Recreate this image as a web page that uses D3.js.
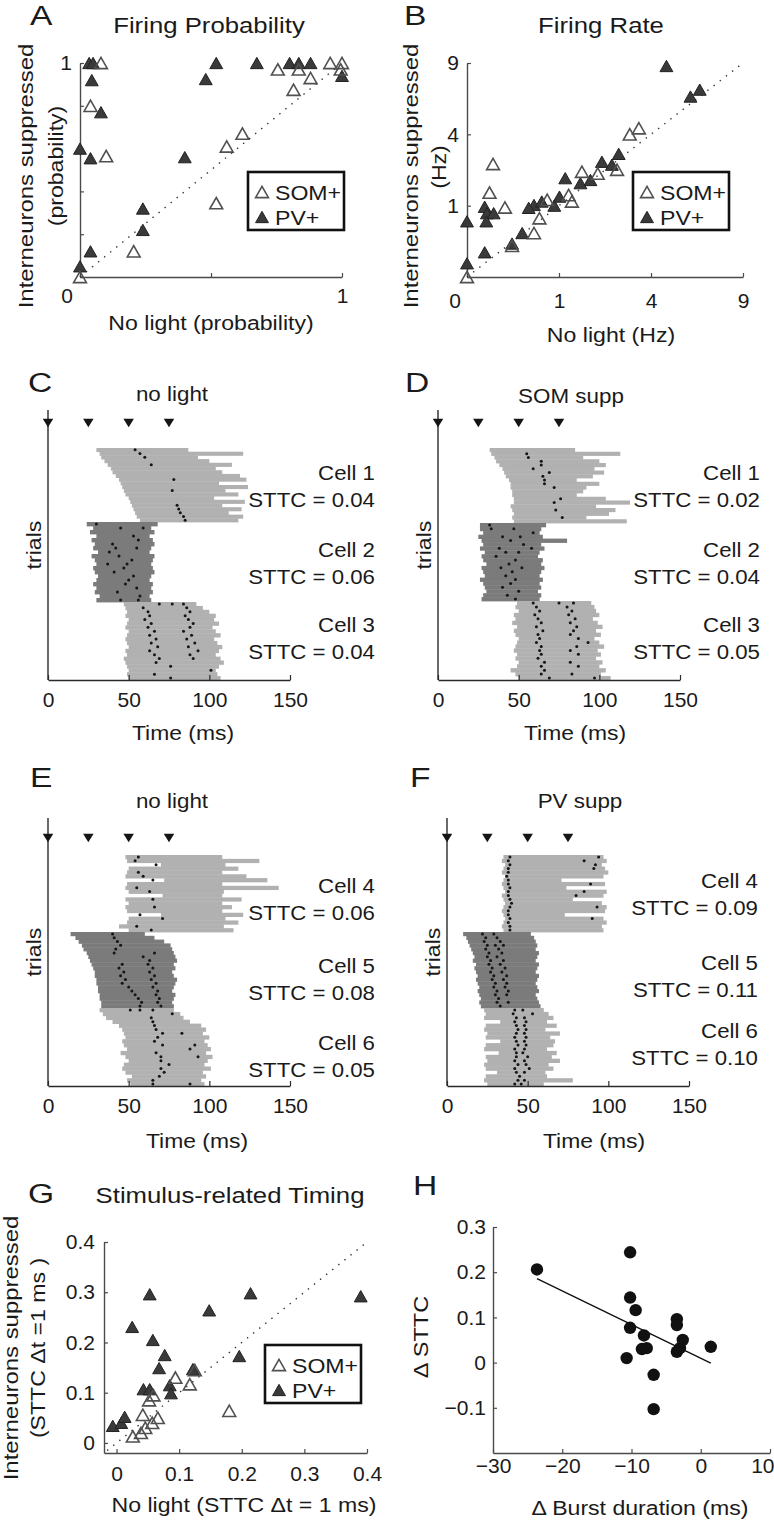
<!DOCTYPE html>
<html>
<head>
<meta charset="utf-8">
<script src="https://d3js.org/d3.v7.min.js"></script>
<style>
  body { margin: 0; background: #fff; }
  text { font-family: "Liberation Sans", Arial, Helvetica, sans-serif; fill: #1a1a1a; }
</style>
</head>
<body>
<script>
// ---------- data ----------
// A: firing probability (no light vs interneurons suppressed)
var probPV_x  = [0.035,0.05,0.045,0.08,0,0.04,0.40,0.24,0.24,0.04,0,0.52,0.48,0.675,0.80,0.835,0.88,1.0];
var probPV_y  = [1.0,1.0,0.92,0.77,0.60,0.555,0.56,0.32,0.22,0.12,0.05,1.0,0.925,1.0,1.0,1.0,1.0,0.94];
var probSOM_x = [0.08,0.04,0.10,0.205,0,0.52,0.56,0.62,0.755,0.835,0.815,0.88,0.955,1.0,0.995];
var probSOM_y = [1.0,0.80,0.565,0.12,0,0.345,0.61,0.67,0.97,0.97,0.875,0.93,1.0,1.0,0.97];

// B: firing rate (Hz), sqrt axes
var ratePV_x  = [4.7,6.4,5.9,2.72,2.15,2.48,1.14,1.52,1.8,1.01,0.53,0.45,0.66,0.36,0.24,0.037,0.047,0.084,0.044,0,0.037,0,0.9];
var ratePV_y  = [8.75,6.9,6.4,2.98,2.61,2.48,1.92,1.73,1.85,1.27,1.02,0.94,1.12,0.38,0.22,0.97,0.8,0.8,0.61,0.61,0.12,0.037,1.0];
var rateSOM_x = [0.08,0.06,0.17,0.62,0.53,0.24,0.76,1.22,1.3,1.56,2.02,2.66,3.13,3.49,0];
var rateSOM_y = [2.51,1.4,0.95,0.68,0.38,0.19,1.17,1.32,1.12,2.18,2.1,2.26,4.0,4.35,0];
var rateTicks = [0,1,4,9];

// G: stimulus-related timing (STTC)
var stPV_x  = [0.053,0.214,0.39,0.148,0.025,0.058,0.077,0.196,0.068,0.122,0.043,0.053,0.085,0.087,-0.006,0.0075,0.013];
var stPV_y  = [0.296,0.298,0.292,0.264,0.231,0.205,0.175,0.173,0.149,0.147,0.107,0.107,0.115,0.099,0.034,0.04,0.052];
var stSOM_x = [0.094,0.117,0.125,0.18,0.059,0.052,0.042,0.066,0.057,0.039,0.026,0.046];
var stSOM_y = [0.13,0.117,0.145,0.064,0.095,0.085,0.056,0.05,0.04,0.02,0.013,0.03];

// H: change in burst duration vs change in STTC
var burstDelta = [-23.65,-10.2,-10.2,-9.4,-10.2,-10.7,-8.2,-8.5,-7.8,-6.8,-6.8,-3.45,-3.45,-2.6,-3.45,-3.0,1.45];
var sttcDelta  = [0.206,0.244,0.144,0.116,0.077,0.01,0.06,0.03,0.032,-0.027,-0.103,0.096,0.083,0.05,0.024,0.032,0.035];

// rasters: stimulus times and per-trial burst start/end (ms), spikes [trial, ms]
var stimTimes = [0,25,50,75];
var timeTicks = [0,50,100,150];

var C1_start = [30,32,33,35,37,39,40,42,44,45,46,47,48,50,51,52,53,54,55,57];
var C1_end   = [87,121,93,100,114,104,108,119,123,106,124,110,118,103,122,108,120,112,121,118];
var C1_spikes = [[0,54],[1,57],[2,60],[4,64],[8,78],[11,77],[15,80],[16,81],[17,82],[18,84],[19,85]];
var C2_start = [24,28,26,30,27,29,28,31,27,29,30,28,29,31,30,28,30,29,32,30];
var C2_end   = [68,64,66,63,65,66,64,63,66,65,64,65,66,64,63,65,64,65,63,64];
var C2_spikes = [[0,30],[1,45],[1,59],[3,53],[4,56],[5,40],[6,42],[6,55],[7,38],[8,44],[9,52],[10,37],[10,49],[11,47],[12,41],[13,53],[14,50],[15,48],[16,55],[17,43],[18,57],[19,56],[19,45]];
var C3_start = [47,48,49,48,50,49,48,50,49,48,49,50,48,49,47,48,49,50,49,50];
var C3_end   = [92,96,100,104,103,106,102,104,107,103,105,108,106,104,107,109,106,104,105,107];
var C3_spikes = [[0,69],[0,77],[0,84],[1,59],[1,86],[2,62],[2,88],[3,63],[3,85],[4,60],[4,87],[5,64],[5,90],[6,62],[6,88],[7,66],[7,84],[8,63],[8,89],[9,67],[9,86],[10,64],[10,91],[11,68],[11,87],[12,63],[12,93],[13,66],[13,88],[14,69],[14,90],[15,67],[16,76],[17,101],[18,66],[19,76]];

var D1_start = [32,33,35,36,38,40,41,42,44,45,45,46,46,47,47,45,46,47,46,47];
var D1_end   = [85,113,90,100,104,97,103,96,86,100,92,90,86,104,119,98,110,106,92,117];
var D1_spikes = [[1,55],[2,56],[3,64],[4,64],[5,59],[6,69],[7,65],[8,66],[9,66],[10,72],[13,76],[14,72],[16,73],[18,77]];
var D2_start = [26,26,28,25,27,28,26,29,27,28,30,27,28,29,26,28,29,30,28,27];
var D2_end   = [67,64,63,65,80,64,66,63,62,65,64,66,64,63,65,63,64,62,64,63];
var D2_spikes = [[0,32],[1,33],[1,47],[2,59],[3,40],[3,51],[4,45],[5,53],[6,38],[6,58],[7,42],[7,50],[8,36],[9,48],[10,44],[11,39],[11,52],[12,46],[13,42],[14,48],[15,45],[16,40],[17,50],[18,43],[19,48]];
var D3_start = [49,48,50,47,48,46,49,47,48,50,49,48,47,49,48,50,49,45,48,50];
var D3_end   = [95,97,98,100,96,99,102,98,101,97,100,103,99,101,98,102,100,104,101,107];
var D3_spikes = [[0,59],[0,75],[0,84],[1,61],[1,80],[2,63],[2,83],[3,60],[3,81],[4,62],[4,85],[5,64],[5,82],[6,61],[6,86],[7,65],[7,84],[8,62],[8,82],[9,63],[9,87],[10,61],[10,93],[11,64],[11,86],[12,63],[12,82],[13,64],[13,87],[14,62],[15,66],[15,82],[16,64],[16,87],[17,66],[18,64],[18,83],[19,69],[19,97]];

var E4_start = [48,49,70,50,49,48,72,49,48,50,71,48,50,48,49,70,50,49,44,50];
var E4_end   = [108,131,110,118,108,123,136,108,143,109,108,120,108,114,108,121,110,118,109,115];
var E4_spikes = [[0,56],[1,54],[2,67],[4,56],[5,59],[6,65],[8,55],[9,63],[11,65],[13,66],[15,57],[16,71],[18,55],[19,64]];
var E5_start = [14,17,19,21,22,24,25,26,27,28,29,29,30,30,31,31,32,32,33,33];
var E5_end   = [60,66,72,76,77,78,79,80,78,79,77,78,80,79,78,77,79,78,77,78];
var E5_spikes = [[0,40],[1,41],[2,43],[3,45],[4,42],[5,41],[5,66],[6,59],[7,63],[8,46],[8,62],[9,44],[9,65],[10,47],[10,63],[11,45],[11,66],[12,48],[12,64],[13,46],[13,67],[14,50],[14,65],[15,52],[15,68],[16,54],[16,67],[17,56],[17,69],[18,58],[18,68],[19,57],[19,70]];
var E6_start = [32,34,36,40,44,46,47,48,46,47,49,45,48,50,47,46,48,52,49,51];
var E6_end   = [78,82,84,88,95,98,96,100,97,99,101,98,102,99,97,101,96,98,95,97];
var E6_spikes = [[0,51],[0,57],[0,65],[1,77],[2,64],[3,65],[4,66],[5,67],[6,71],[6,83],[7,68],[8,66],[9,71],[9,91],[10,88],[11,67],[12,70],[12,93],[13,70],[14,75],[15,70],[16,72],[17,69],[18,65],[19,65],[19,88]];

var F4_start = [35,34,36,35,34,36,35,34,35,36,34,35,36,35,34,35,36,35,34,35];
var F4_end   = [97,99,96,98,100,97,71,98,74,99,97,78,96,99,98,73,97,99,96,97];
var F4_spikes = [[0,39],[0,94],[1,38],[1,85],[2,39],[2,92],[3,38],[3,91],[4,38],[5,37],[6,38],[7,38],[7,89],[8,39],[9,38],[9,85],[10,38],[10,80],[11,39],[12,40],[13,39],[13,93],[14,38],[15,38],[16,39],[16,90],[17,38],[18,39],[19,39]];
var F5_start = [10,12,13,14,15,16,17,16,18,17,18,19,18,19,20,19,20,21,20,21];
var F5_end   = [52,54,55,56,55,57,56,55,57,56,55,57,56,55,56,57,55,56,57,58];
var F5_spikes = [[0,22],[0,29],[1,24],[1,31],[2,23],[2,33],[3,25],[3,30],[3,35],[4,24],[4,32],[5,26],[5,34],[6,25],[6,31],[7,27],[7,35],[8,26],[8,33],[9,28],[9,36],[10,27],[10,34],[11,29],[11,37],[12,28],[12,35],[13,30],[13,37],[14,29],[14,36],[15,31],[15,38],[16,30],[16,37],[17,32],[18,31],[18,38],[19,33]];
var F6_start = [23,24,23,33,24,23,25,24,33,24,23,32,24,25,23,24,31,24,23,25];
var F6_end   = [60,63,66,62,68,61,70,64,67,66,62,68,65,70,63,66,61,62,78,60];
var F6_spikes = [[0,42],[0,47],[1,41],[1,53],[2,43],[2,48],[3,42],[3,49],[4,43],[4,48],[5,44],[5,49],[6,43],[6,48],[7,42],[7,49],[8,43],[8,48],[9,44],[9,49],[10,42],[10,48],[11,43],[11,47],[12,43],[12,50],[13,42],[13,48],[14,44],[14,49],[15,42],[15,51],[16,43],[16,48],[17,45],[18,44],[18,48],[19,42],[19,46]];

var cellNames = ["Cell 1","Cell 2","Cell 3","Cell 4","Cell 5","Cell 6"];
var sttcC = ["0.04","0.06","0.04"], sttcD = ["0.02","0.04","0.05"];
var sttcE = ["0.06","0.08","0.05"], sttcF = ["0.09","0.11","0.10"];

// ---------- drawing ----------
var W = 774, H = 1532;
var svg = d3.select("body").append("svg").attr("width", W).attr("height", H);
svg.append("rect").attr("width", W).attr("height", H).attr("fill", "#fff");

var LIGHT = "#b1b1b1", DARK = "#7b7b7b", AX = "#4a4a4a";

function put(str, x, y, o) {
  o = o || {};
  return svg.append("text")
    .attr("transform", "translate(" + x + "," + y + ") rotate(" + (o.rot || 0) + ") scale(" + (o.sx || 1.12) + ",1)")
    .attr("text-anchor", o.anchor || "middle")
    .attr("font-size", o.size || 21)
    .text(str);
}

// triangle symbols centred on their bounding box
var triUp = { draw: function(ctx, s) { var w = Math.sqrt(s), h = w * 0.88;
  ctx.moveTo(0, -h/2); ctx.lineTo(w/2, h/2); ctx.lineTo(-w/2, h/2); ctx.closePath(); } };
var triDown = { draw: function(ctx, s) { var w = Math.sqrt(s), h = w * 0.8;
  ctx.moveTo(0, h/2); ctx.lineTo(w/2, -h/2); ctx.lineTo(-w/2, -h/2); ctx.closePath(); } };
var markerPath = d3.symbol().type(triUp).size(165)();

function styleAxis(g, color) {
  g.select(".domain").attr("stroke", color).attr("stroke-width", 1.4);
  g.selectAll(".tick line").attr("stroke", color).attr("stroke-width", 1.2);
  g.selectAll(".tick text").attr("font-size", 21).attr("fill", "#1a1a1a")
    .attr("font-family", '"Liberation Sans", Arial, sans-serif');
  g.attr("font-family", null).attr("font-size", null);
}

function triangles(xs, ys, xv, yv, filled) {
  var pts = xv.map(function(v, i) { return [v, yv[i]]; });
  svg.append("g").selectAll("path").data(pts).join("path")
    .attr("d", markerPath)
    .attr("transform", function(d) { return "translate(" + xs(d[0]) + "," + ys(d[1]) + ")"; })
    .attr("fill", filled ? "#3a3a3a" : "none")
    .attr("stroke", filled ? "#222" : "#505050")
    .attr("stroke-width", filled ? 1 : 1.6);
}

function diagonal(xs, ys, lo, hi) {
  svg.append("path")
    .attr("d", d3.line().x(function(d) { return xs(d); }).y(function(d) { return ys(d); })([lo, hi]))
    .attr("stroke", "#333").attr("stroke-width", 1.4)
    .attr("stroke-dasharray", "1.4,6.4").attr("fill", "none");
}

function legend(x, y) {
  svg.append("rect").attr("x", x).attr("y", y).attr("width", 96).attr("height", 58)
    .attr("fill", "#fff").attr("stroke", "#111").attr("stroke-width", 2.6);
  [["SOM+", false, 20], ["PV+", true, 45]].forEach(function(e) {
    svg.append("path").attr("d", markerPath)
      .attr("transform", "translate(" + (x + 14) + "," + (y + e[2]) + ")")
      .attr("fill", e[1] ? "#3a3a3a" : "none")
      .attr("stroke", e[1] ? "#222" : "#505050").attr("stroke-width", e[1] ? 1 : 1.6);
    put(e[0], x + 27, y + e[2] + 7.5, { anchor: "start", sx: 1.1 });
  });
}

// ----- Panel A -----
(function() {
  var x = d3.scaleLinear().domain([0, 1]).range([80, 342]);
  var y = d3.scaleLinear().domain([0, 1]).range([277, 63]);
  var gx = svg.append("g").attr("transform", "translate(0,277)")
    .call(d3.axisBottom(x).tickValues([0, 0.5, 1]).tickSizeInner(-4).tickSizeOuter(0).tickPadding(11)
      .tickFormat(function(d) { return d === 1 ? "1" : ""; }));
  styleAxis(gx, AX);
  var gy = svg.append("g").attr("transform", "translate(80,0)")
    .call(d3.axisLeft(y).tickValues([0, 0.2, 0.4, 0.6, 0.8, 1]).tickSizeInner(-4).tickSizeOuter(0).tickPadding(8)
      .tickFormat(function(d) { return d === 1 ? "1" : ""; }));
  styleAxis(gy, AX);
  put("0", 67, 303, { sx: 1 });
  diagonal(x, y, 0, 1);
  triangles(x, y, probPV_x, probPV_y, true);
  triangles(x, y, probSOM_x, probSOM_y, false);
  legend(248, 172);
  put("A", 30, 25, { anchor: "start", size: 28, sx: 1.2 });
  put("Firing Probability", 209, 33, { size: 22, sx: 1.17 });
  put("Interneurons suppressed", 33, 176, { rot: -90, sx: 1.14 });
  put("(probability)", 63, 166, { rot: -90, sx: 1.1 });
  put("No light (probability)", 211, 330, { sx: 1.1 });
})();

// ----- Panel B -----
(function() {
  var x = d3.scaleSqrt().domain([0, 9]).range([467, 743]);
  var y = d3.scaleSqrt().domain([0, 9]).range([277, 63]);
  var gx = svg.append("g").attr("transform", "translate(0,277)")
    .call(d3.axisBottom(x).tickValues(rateTicks).tickSizeInner(-4).tickSizeOuter(0).tickPadding(16)
      .tickFormat(function(d) { return d === 0 ? "" : d; }));
  styleAxis(gx, AX);
  var gy = svg.append("g").attr("transform", "translate(467,0)")
    .call(d3.axisLeft(y).tickValues(rateTicks).tickSizeInner(-4).tickSizeOuter(0).tickPadding(8)
      .tickFormat(function(d) { return d === 0 ? "" : d; }));
  styleAxis(gy, AX);
  put("0", 455, 308, { sx: 1 });
  diagonal(x, y, 0, 9);
  triangles(x, y, ratePV_x, ratePV_y, true);
  triangles(x, y, rateSOM_x, rateSOM_y, false);
  legend(633, 172);
  put("B", 404, 25, { anchor: "start", size: 28, sx: 1.2 });
  put("Firing Rate", 601, 33, { size: 22, sx: 1.17 });
  put("Interneurons suppressed", 418, 176, { rot: -90, sx: 1.14 });
  put("(Hz)", 446, 167, { rot: -90, sx: 1.1 });
  put("No light (Hz)", 611, 342, { sx: 1.1 });
})();

// ----- Raster panels C-F -----
function raster(cfg) {
  var xs = d3.scaleLinear().domain([0, 150]).range([cfg.x0, cfg.x0 + 242]);
  var g = svg.append("g");
  var blocks = cfg.cells.map(function(c, k) {
    var ys = d3.scaleBand().domain(d3.range(c.start.length)).range([cfg.bounds[k], cfg.bounds[k + 1]]);
    return { c: c, ys: ys, color: k === 1 ? DARK : LIGHT };
  });
  blocks.forEach(function(b) {
    var rows = b.c.start.map(function(s, i) { return { i: i, s: s, e: b.c.end[i] }; });
    g.append("g").selectAll("rect").data(rows).join("rect")
      .attr("x", function(d) { return xs(d.s); })
      .attr("y", function(d) { return b.ys(d.i); })
      .attr("width", function(d) { return xs(d.e) - xs(d.s); })
      .attr("height", b.ys.bandwidth() + 0.4)
      .attr("fill", b.color);
  });
  blocks.forEach(function(b) {
    g.append("g").selectAll("circle").data(b.c.spikes).join("circle")
      .attr("cx", function(d) { return xs(d[1]); })
      .attr("cy", function(d) { return b.ys(d[0]) + b.ys.bandwidth() / 2; })
      .attr("r", 1.5).attr("fill", "#151515");
  });
  var bottom = cfg.bounds[3];
  var gx = svg.append("g").attr("transform", "translate(0," + bottom + ")")
    .call(d3.axisBottom(xs).tickValues(timeTicks).tickSizeInner(-5).tickSizeOuter(0).tickPadding(12));
  styleAxis(gx, "#2a2a2a");
  svg.append("line").attr("x1", cfg.x0).attr("x2", cfg.x0).attr("y1", cfg.axisTop).attr("y2", bottom)
    .attr("stroke", "#2a2a2a").attr("stroke-width", 1.4);
  svg.append("g").selectAll("path").data(stimTimes).join("path")
    .attr("d", d3.symbol().type(triDown).size(110)())
    .attr("transform", function(d) { return "translate(" + xs(d) + "," + cfg.triY + ")"; })
    .attr("fill", "#151515");
  put(cfg.letter, cfg.letterX, cfg.letterY, { anchor: "start", size: 28, sx: 1.2 });
  put(cfg.title, cfg.titleX, cfg.titleY, { size: 20, sx: 1.12 });
  put("trials", cfg.x0 - 7, (cfg.axisTop + bottom) / 2, { rot: -90, sx: 1.1 });
  put("Time (ms)", cfg.timeX, cfg.timeY, { sx: 1.09 });
  cfg.labelY.forEach(function(ly, k) {
    put(cfg.names[k], cfg.labelX, ly, { anchor: "end", sx: 1.06 });
    put("STTC = " + cfg.sttc[k], cfg.labelX, ly + 27, { anchor: "end", sx: 1.06 });
  });
}

raster({ x0: 48, axisTop: 410, triY: 423, bounds: [448, 522, 602, 680],
  cells: [{ start: C1_start, end: C1_end, spikes: C1_spikes }, { start: C2_start, end: C2_end, spikes: C2_spikes }, { start: C3_start, end: C3_end, spikes: C3_spikes }],
  letter: "C", letterX: 28, letterY: 392, title: "no light", titleX: 172, titleY: 401,
  timeX: 183, timeY: 740, labelX: 375, labelY: [480, 557, 632], names: cellNames.slice(0, 3), sttc: sttcC });

raster({ x0: 438, axisTop: 410, triY: 423, bounds: [448, 523, 601, 680],
  cells: [{ start: D1_start, end: D1_end, spikes: D1_spikes }, { start: D2_start, end: D2_end, spikes: D2_spikes }, { start: D3_start, end: D3_end, spikes: D3_spikes }],
  letter: "D", letterX: 405, letterY: 392, title: "SOM supp", titleX: 571, titleY: 403,
  timeX: 575, timeY: 740, labelX: 760, labelY: [480, 557, 632], names: cellNames.slice(0, 3), sttc: sttcD });

raster({ x0: 48, axisTop: 818, triY: 838, bounds: [855, 932, 1008, 1086],
  cells: [{ start: E4_start, end: E4_end, spikes: E4_spikes }, { start: E5_start, end: E5_end, spikes: E5_spikes }, { start: E6_start, end: E6_end, spikes: E6_spikes }],
  letter: "E", letterX: 30, letterY: 787, title: "no light", titleX: 172, titleY: 808,
  timeX: 197, timeY: 1148, labelX: 375, labelY: [893, 973, 1050], names: cellNames.slice(3), sttc: sttcE });

raster({ x0: 447, axisTop: 818, triY: 838, bounds: [855, 932, 1008, 1086],
  cells: [{ start: F4_start, end: F4_end, spikes: F4_spikes }, { start: F5_start, end: F5_end, spikes: F5_spikes }, { start: F6_start, end: F6_end, spikes: F6_spikes }],
  letter: "F", letterX: 410, letterY: 787, title: "PV supp", titleX: 580, titleY: 808,
  timeX: 594, timeY: 1148, labelX: 758, labelY: [888, 970, 1038], names: cellNames.slice(3), sttc: sttcF });

// ----- Panel G -----
(function() {
  var x = d3.scaleLinear().domain([-0.02, 0.4]).range([104, 367]);
  var y = d3.scaleLinear().domain([-0.02, 0.4]).range([1453, 1242]);
  var fmt = function(d) { return d === 0 ? "0" : d3.format(".1f")(d); };
  var gx = svg.append("g").attr("transform", "translate(0,1453)")
    .call(d3.axisBottom(x).tickValues([0, 0.1, 0.2, 0.3, 0.4]).tickSizeInner(-4).tickSizeOuter(0).tickPadding(13).tickFormat(fmt));
  styleAxis(gx, AX);
  var gy = svg.append("g").attr("transform", "translate(104,0)")
    .call(d3.axisLeft(y).tickValues([0, 0.1, 0.2, 0.3, 0.4]).tickSizeInner(-4).tickSizeOuter(0).tickPadding(9).tickFormat(fmt));
  styleAxis(gy, AX);
  diagonal(x, y, -0.015, 0.4);
  triangles(x, y, stPV_x, stPV_y, true);
  triangles(x, y, stSOM_x, stSOM_y, false);
  legend(265, 1345);
  put("G", 28, 1203, { anchor: "start", size: 28, sx: 1.2 });
  put("Stimulus-related Timing", 230, 1203, { size: 22, sx: 1.17 });
  put("Interneurons suppressed", 18, 1348, { rot: -90, sx: 1.14 });
  put("(STTC \u0394t =1 ms )", 45, 1348, { rot: -90, sx: 1.1 });
  put("No light (STTC \u0394t = 1 ms)", 244, 1512, { sx: 1.1 });
})();

// ----- Panel H -----
(function() {
  var x = d3.scaleLinear().domain([-30, 10]).range([493, 770]);
  var y = d3.scaleLinear().domain([-0.2, 0.3]).range([1453, 1227]);
  var gx = svg.append("g").attr("transform", "translate(0,1453)")
    .call(d3.axisBottom(x).tickValues([-30, -20, -10, 0, 10]).tickSizeInner(-4).tickSizeOuter(0).tickPadding(5));
  styleAxis(gx, AX);
  // keep the last label inside the page, as in the original
  gx.selectAll(".tick text").filter(function(d) { return d === 10; }).attr("text-anchor", "end").attr("dx", 4);
  var gy = svg.append("g").attr("transform", "translate(493,0)")
    .call(d3.axisLeft(y).tickValues([-0.1, 0, 0.1, 0.2, 0.3]).tickSizeInner(-4).tickSizeOuter(0).tickPadding(7)
      .tickFormat(function(d) { return d === 0 ? "0" : d3.format(".1f")(d); }));
  styleAxis(gy, AX);
  // least-squares fit of the points
  var mx = d3.mean(burstDelta), my = d3.mean(sttcDelta);
  var sxy = d3.sum(burstDelta, function(v, i) { return (v - mx) * (sttcDelta[i] - my); });
  var sxx = d3.sum(burstDelta, function(v) { return (v - mx) * (v - mx); });
  var b = sxy / sxx, a = my - b * mx;
  var ext = d3.extent(burstDelta);
  svg.append("path")
    .attr("d", d3.line().x(function(d) { return x(d); }).y(function(d) { return y(a + b * d); })(ext))
    .attr("stroke", "#111").attr("stroke-width", 1.4).attr("fill", "none");
  svg.append("g").selectAll("circle").data(burstDelta.map(function(v, i) { return [v, sttcDelta[i]]; })).join("circle")
    .attr("cx", function(d) { return x(d[0]); }).attr("cy", function(d) { return y(d[1]); })
    .attr("r", 6.2).attr("fill", "#111");
  put("H", 413, 1195, { anchor: "start", size: 28, sx: 1.2 });
  put("\u0394 STTC", 428, 1337, { rot: -90, sx: 1.12 });
  put("\u0394 Burst duration (ms)", 640, 1515, { sx: 1.1 });
})();
</script>
</body>
</html>
